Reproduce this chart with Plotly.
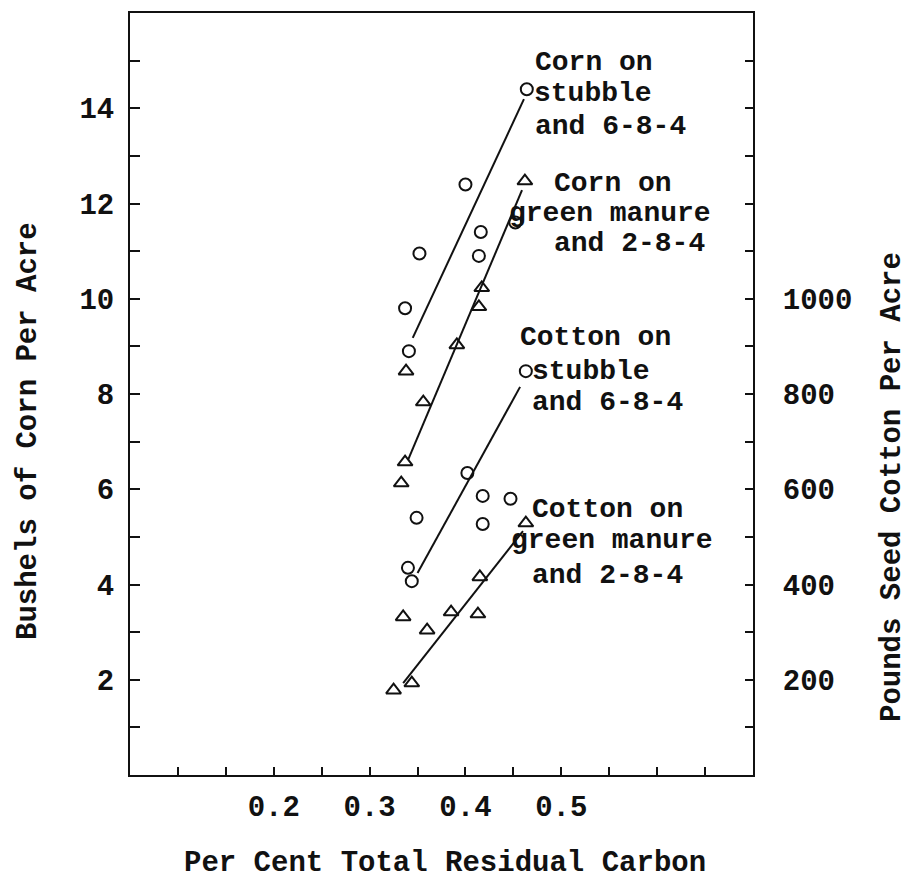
import plotly.graph_objects as go

# ---------------- data ----------------
# Corn on stubble and 6-8-4 (circles, bushels/acre)
corn_stubble_x = [0.464, 0.400, 0.416, 0.414, 0.352, 0.337, 0.341, 0.452]
corn_stubble_y = [14.4, 12.4, 11.4, 10.9, 10.95, 9.8, 8.9, 11.6]
corn_stubble_fit_x = [0.345, 0.461]
corn_stubble_fit_y = [9.18, 14.19]

# Corn on green manure and 2-8-4 (triangles, bushels/acre)
corn_gm_x = [0.462, 0.417, 0.414, 0.391, 0.356, 0.338, 0.337, 0.333]
corn_gm_y = [12.47, 10.23, 9.83, 9.03, 7.83, 8.48, 6.57, 6.13]
corn_gm_fit_x = [0.340, 0.459]
corn_gm_fit_y = [6.61, 12.28]

# Cotton on stubble and 6-8-4 (circles, pounds seed cotton/acre)
cotton_stubble_x = [0.463, 0.402, 0.418, 0.447, 0.349, 0.418, 0.340, 0.344]
cotton_stubble_y = [848, 634, 586, 580, 540, 527, 435, 407]
cotton_stubble_fit_x = [0.350, 0.457]
cotton_stubble_fit_y = [424, 815]

# Cotton on green manure and 2-8-4 (triangles, pounds seed cotton/acre)
cotton_gm_x = [0.463, 0.415, 0.385, 0.413, 0.335, 0.360, 0.344, 0.325]
cotton_gm_y = [529, 416, 342, 338, 332, 304, 193, 178]
cotton_gm_fit_x = [0.335, 0.460]
cotton_gm_fit_y = [193, 512]

# axis ticks
x_tickvals = [0.05 + 0.05 * i for i in range(14)]
x_ticklabels = {0.2: "0.2", 0.3: "0.3", 0.4: "0.4", 0.5: "0.5"}
y_tickvals = list(range(0, 17))
y_ticklabels = [2, 4, 6, 8, 10, 12, 14]
y2_tickvals = list(range(0, 1700, 100))
y2_ticklabels = [200, 400, 600, 800, 1000]

x_title = "Per Cent Total Residual Carbon"
y_title = "Bushels of Corn Per Acre"
y2_title = "Pounds Seed Cotton Per Acre"

labels = [
    ("Corn on", 533, 63), ("stubble", 532, 93), ("and 6-8-4", 533, 126),
    ("Corn on", 552, 183), ("green manure", 507, 213), ("and 2-8-4", 552, 243),
    ("Cotton on", 518, 338), ("stubble", 530, 371), ("and 6-8-4", 530, 402),
    ("Cotton on", 530, 509), ("green manure", 509, 540), ("and 2-8-4", 530, 575),
]

# ---------------- figure ----------------
FONT = "Liberation Mono"
FS_LAB = 28
FS_TICK = 29
FS_TITLE = 29
INK = "#111111"

W, H = 912, 884
L, R, T, B = 130, 159, 13, 109
PW, PH = W - L - R, H - T - B


def px(x):
    return (x - L) / PW


def py(y):
    return (H - B - y) / PH


fig = go.Figure()

circle = dict(symbol="circle-open", size=12, color=INK, line=dict(width=2, color=INK))
tri = dict(symbol="triangle-up-open", size=13, color=INK, line=dict(width=2, color=INK))
fitline = dict(color=INK, width=2)

fig.add_trace(go.Scatter(x=corn_stubble_x, y=corn_stubble_y, mode="markers", marker=circle))
fig.add_trace(go.Scatter(x=corn_stubble_fit_x, y=corn_stubble_fit_y, mode="lines", line=fitline))
fig.add_trace(go.Scatter(x=corn_gm_x, y=corn_gm_y, mode="markers", marker=tri))
fig.add_trace(go.Scatter(x=corn_gm_fit_x, y=corn_gm_fit_y, mode="lines", line=fitline))
fig.add_trace(go.Scatter(x=cotton_stubble_x, y=cotton_stubble_y, mode="markers", marker=circle, yaxis="y2"))
fig.add_trace(go.Scatter(x=cotton_stubble_fit_x, y=cotton_stubble_fit_y, mode="lines", line=fitline, yaxis="y2"))
fig.add_trace(go.Scatter(x=cotton_gm_x, y=cotton_gm_y, mode="markers", marker=tri, yaxis="y2"))
fig.add_trace(go.Scatter(x=cotton_gm_fit_x, y=cotton_gm_fit_y, mode="lines", line=fitline, yaxis="y2"))

tickfont = dict(family=FONT, size=FS_TICK, color=INK, weight="bold")

fig.update_layout(
    width=W, height=H,
    margin=dict(l=L, r=R, t=T, b=B, pad=0),
    paper_bgcolor="white", plot_bgcolor="white",
    showlegend=False,
    font=dict(family=FONT, size=FS_TICK, color=INK),
    xaxis=dict(
        range=[0.05, 0.70], showgrid=False, zeroline=False,
        showline=True, linecolor=INK, linewidth=2, mirror=True,
        ticks="inside", ticklen=8, tickwidth=2, tickcolor=INK,
        tickvals=x_tickvals,
        ticktext=[x_ticklabels.get(round(v, 2), "") for v in x_tickvals],
        tickfont=tickfont, ticklabelstandoff=4,
    ),
    yaxis=dict(
        range=[0, 16], showgrid=False, zeroline=False,
        showline=True, linecolor=INK, linewidth=2,
        ticks="inside", ticklen=10, tickwidth=2, tickcolor=INK,
        tickvals=y_tickvals,
        ticktext=[str(v) if v in y_ticklabels else "" for v in y_tickvals],
        tickfont=tickfont, ticklabelstandoff=8,
    ),
    yaxis2=dict(
        range=[0, 1600], overlaying="y", side="right",
        showgrid=False, zeroline=False,
        showline=True, linecolor=INK, linewidth=2,
        ticks="inside", ticklen=8, tickwidth=2, tickcolor=INK,
        tickvals=y2_tickvals,
        ticktext=[str(v) if v in y2_ticklabels else "" for v in y2_tickvals],
        tickfont=tickfont, ticklabelstandoff=22,
    ),
)

annotations = []
for text, x, y in labels:
    annotations.append(dict(
        text=text, xref="paper", yref="paper", x=px(x), y=py(y),
        xanchor="left", yanchor="middle", showarrow=False,
        font=dict(family=FONT, size=FS_LAB, color=INK, weight="bold"),
    ))

annotations.append(dict(
    text=x_title, xref="paper", yref="paper", x=px(445), y=py(863),
    xanchor="center", yanchor="middle", showarrow=False,
    font=dict(family=FONT, size=FS_TITLE, color=INK, weight="bold"),
))
annotations.append(dict(
    text=y_title, xref="paper", yref="paper", x=px(28), y=py(431),
    xanchor="center", yanchor="middle", showarrow=False, textangle=-90,
    font=dict(family=FONT, size=FS_TITLE, color=INK, weight="bold"),
))
annotations.append(dict(
    text=y2_title, xref="paper", yref="paper", x=px(892), y=py(487),
    xanchor="center", yanchor="middle", showarrow=False, textangle=-90,
    font=dict(family=FONT, size=FS_TITLE, color=INK, weight="bold"),
))
fig.update_layout(annotations=annotations)

fig.write_html("out.html")
